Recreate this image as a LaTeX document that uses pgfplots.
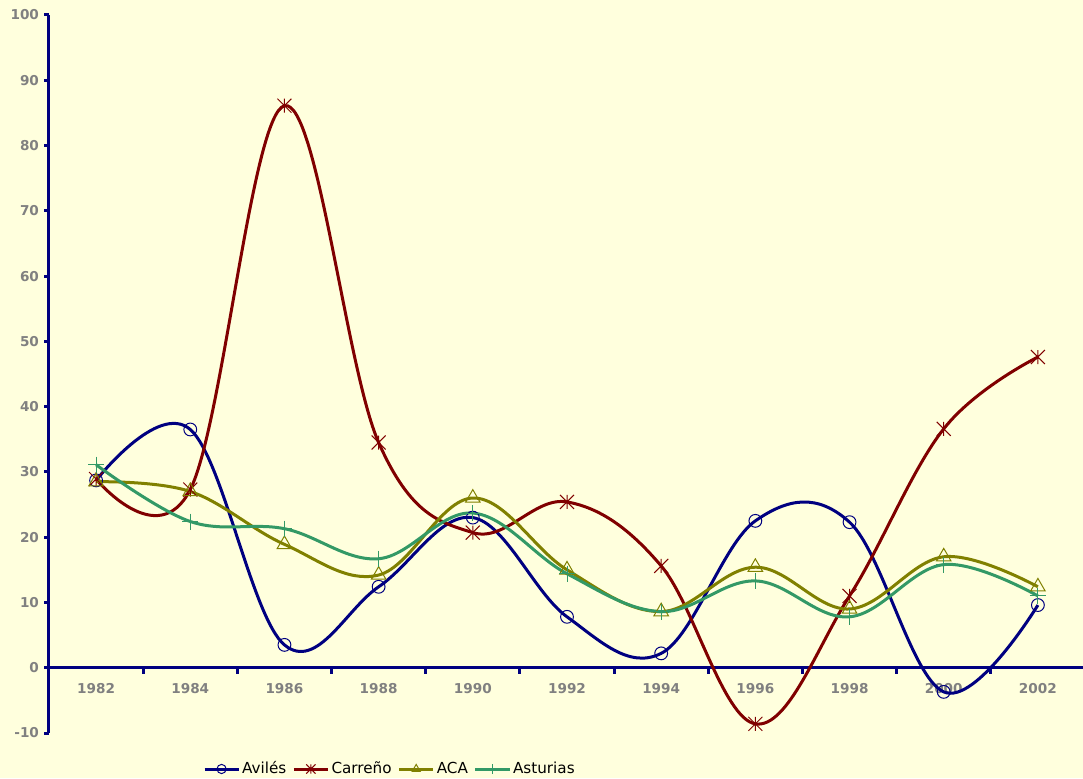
\documentclass[border=0pt]{standalone}
\usepackage{pgfplots}
\pgfplotsset{compat=1.18}
\usepackage{fontspec}
\setmainfont{DejaVu Sans}

\definecolor{bg}{HTML}{FFFFDD}
\definecolor{aviles}{HTML}{000080}
\definecolor{carreno}{HTML}{800000}
\definecolor{aca}{HTML}{808000}
\definecolor{asturias}{HTML}{339966}
\definecolor{ticklbl}{HTML}{808080}

% Excel-like star: an x with a vertical bar
\pgfdeclareplotmark{xstar}{%
  \pgfpathmoveto{\pgfpoint{-\pgfplotmarksize}{-\pgfplotmarksize}}%
  \pgfpathlineto{\pgfpoint{\pgfplotmarksize}{\pgfplotmarksize}}%
  \pgfpathmoveto{\pgfpoint{-\pgfplotmarksize}{\pgfplotmarksize}}%
  \pgfpathlineto{\pgfpoint{\pgfplotmarksize}{-\pgfplotmarksize}}%
  \pgfpathmoveto{\pgfpoint{0pt}{-\pgfplotmarksize}}%
  \pgfpathlineto{\pgfpoint{0pt}{\pgfplotmarksize}}%
  \pgfusepathqstroke}

\begin{document}
\begin{tikzpicture}
\useasboundingbox (-24.5pt,-22.5pt) rectangle (517pt,366.5pt);
\fill[bg] (-24.5pt,-22.5pt) rectangle (517pt,366.5pt);
\begin{axis}[
  at={(0,0)}, anchor=south west,
  scale only axis, width=518pt, height=359pt,
  xmin=1981, xmax=2003, ymin=-10, ymax=100,
  axis x line=middle, axis y line=left,
  axis line style={-, draw=aviles, line width=1.5pt},
  xtick={1982,1984,...,2002},
  minor xtick={1983,1985,...,2001},
  ytick={-10,0,...,100},
  tick align=outside,
  major tick length=2.5pt, minor tick length=3pt,
  tick style={draw=aviles, line width=1.5pt},
  major x tick style={draw=none},
  /pgf/number format/1000 sep={},
  /pgf/number format/assume math mode=true,
  ticklabel style={font=\bfseries\fontsize{6.8}{8}\selectfont, text=ticklbl},
  x tick label style={yshift=-2pt},
  y tick label style={xshift=1pt},
  every axis plot/.append style={smooth, tension=0.62, line width=1.5pt,
    mark size=3.2pt, mark options={line width=0.5pt, solid}},
  legend columns=4,
  legend image post style={mark size=2.3pt},
  legend style={at={(0.329,0)}, anchor=center, yshift=-18pt,
    draw=none, fill=none, font=\fontsize{7.6}{9}\selectfont,
    inner sep=0pt,
    nodes={inner sep=1pt},
    /tikz/every even column/.append style={column sep=2pt},
    /tikz/every odd column/.append style={column sep=0pt}},
]
\addplot[color=aviles, mark=o] coordinates {
  (1982,28.7) (1984,36.5) (1986,3.5) (1988,12.4) (1990,23.0) (1992,7.8)
  (1994,2.2) (1996,22.5) (1998,22.3) (2000,-3.7) (2002,9.6)
};
\addlegendentry{Avilés}
\addplot[color=carreno, mark=xstar, mark size=3.5pt] coordinates {
  (1982,28.9) (1984,27.3) (1986,86.1) (1988,34.5) (1990,20.7) (1992,25.4)
  (1994,15.6) (1996,-8.6) (1998,11.0) (2000,36.6) (2002,47.6)
};
\addlegendentry{Carreño}
\addplot[color=aca, mark=triangle, mark size=4.2pt] coordinates {
  (1982,28.5) (1984,27.0) (1986,18.9) (1988,14.2) (1990,26.0) (1992,15.0)
  (1994,8.6) (1996,15.4) (1998,9.0) (2000,17.0) (2002,12.4)
};
\addlegendentry{ACA}
\addplot[color=asturias, mark=+, mark size=4pt] coordinates {
  (1982,31.1) (1984,22.4) (1986,21.3) (1988,16.7) (1990,23.7) (1992,14.4)
  (1994,8.6) (1996,13.3) (1998,7.8) (2000,15.8) (2002,11.0)
};
\addlegendentry{Asturias}
\end{axis}
\end{tikzpicture}
\end{document}
